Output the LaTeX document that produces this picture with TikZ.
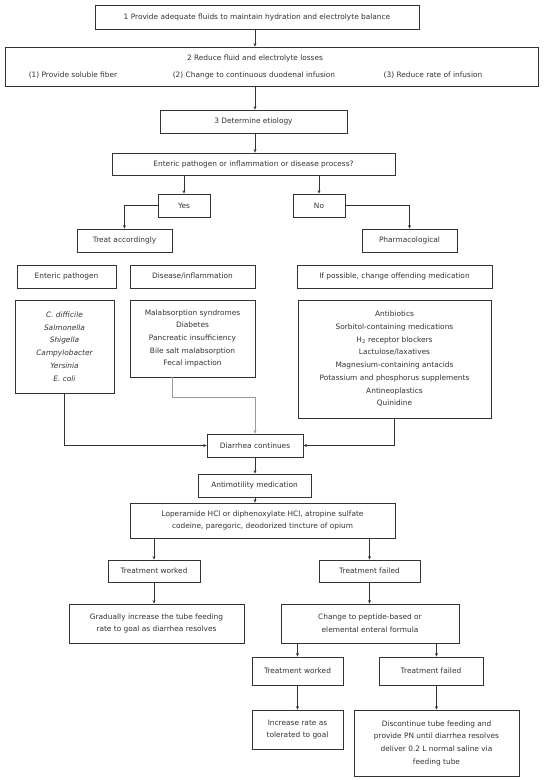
\documentclass[tikz,border=0pt]{standalone}
\usepackage{fontspec}
\setmainfont{DejaVu Sans}
\usetikzlibrary{arrows.meta}
\definecolor{ink}{HTML}{333333}
\tikzset{
  box/.style={draw=ink, line width=0.8pt, text=ink, align=center, inner sep=1pt,
    font=\fontsize{7.4}{12.7}\selectfont},
  lbl/.style={text=ink, inner sep=0pt, font=\fontsize{7.4}{12.7}\selectfont},
  arr/.style={draw=ink, line width=0.8pt, -{Stealth[length=3.5pt,width=3pt]}},
  garr/.style={draw=gray!80, line width=0.8pt, -{Stealth[length=3.5pt,width=3pt]}}
}
\begin{document}
\begin{tikzpicture}[x=1pt,y=-1pt]
\useasboundingbox[fill=white] (0,0) rectangle (551,780);
\coordinate (mx) at (255,0);
\coordinate (gx) at (172,0);
\node[box, minimum width=324pt, minimum height=24pt] (b1) at (257,17) {1 Provide adequate fluids to maintain hydration and electrolyte balance};
\node[box, minimum width=533pt, minimum height=39pt] (b2) at (271.5,66.5) {};
\node[lbl] (b2t) at (255,58) {2 Reduce fluid and electrolyte losses};
\node[lbl] (b2a) at (73,75) {(1) Provide soluble fiber};
\node[lbl] (b2b) at (254,75) {(2) Change to continuous duodenal infusion};
\node[lbl] (b2c) at (433,75) {(3) Reduce rate of infusion};
\node[box, minimum width=187pt, minimum height=23pt] (b3) at (253.5,121.5) {3 Determine etiology};
\node[box, minimum width=283pt, minimum height=22pt] (q) at (253.5,164) {Enteric pathogen or inflammation or disease process?};
\node[box, minimum width=52pt, minimum height=23pt] (yes) at (184,205.5) {Yes};
\node[box, minimum width=52pt, minimum height=23pt] (no) at (319,205.5) {No};
\node[box, minimum width=95pt, minimum height=23pt] (treat) at (124.5,240.5) {Treat accordingly};
\node[box, minimum width=95pt, minimum height=23pt] (pharm) at (409.5,240.5) {Pharmacological};
\node[box, minimum width=99pt, minimum height=23pt] (ent) at (66.5,276.5) {Enteric pathogen};
\node[box, minimum width=125pt, minimum height=23pt] (dis) at (192.5,276.5) {Disease/inflammation};
\node[box, minimum width=195pt, minimum height=23pt] (ifp) at (394.5,276.5) {If possible, change offending medication};
\node[box, minimum width=99pt, minimum height=93pt] (pat) at (64.5,346.5) {\itshape C. difficile\\\itshape Salmonella\\\itshape Shigella\\\itshape Campylobacter\\\itshape Yersinia\\\itshape E. coli};
\node[box, minimum width=125pt, minimum height=77pt] (dlist) at (192.5,338.5) {Malabsorption syndromes\\Diabetes\\Pancreatic insufficiency\\Bile salt malabsorption\\Fecal impaction};
\node[box, minimum width=193pt, minimum height=118pt] (drug) at (394.5,359) {Antibiotics\\Sorbitol-containing medications\\H\textsubscript{2} receptor blockers\\Lactulose/laxatives\\Magnesium-containing antacids\\Potassium and phosphorus supplements\\Antineoplastics\\Quinidine};
\node[box, minimum width=96pt, minimum height=23pt] (diar) at (255,445.5) {Diarrhea continues};
\node[box, minimum width=113pt, minimum height=23pt] (anti) at (254.5,485.5) {Antimotility medication};
\node[box, minimum width=265pt, minimum height=35pt] (lop) at (262.5,520.5) {Loperamide HCl or diphenoxylate HCl, atropine sulfate\\codeine, paregoric, deodorized tincture of opium};
\node[box, minimum width=92pt, minimum height=22pt] (tw) at (154,571) {Treatment worked};
\node[box, minimum width=101pt, minimum height=22pt] (tf) at (369.5,571) {Treatment failed};
\node[box, minimum width=175pt, minimum height=39pt] (grad) at (156.5,623.5) {Gradually increase the tube feeding\\rate to goal as diarrhea resolves};
\node[box, minimum width=178pt, minimum height=39pt] (chg) at (370,623.5) {Change to peptide-based or\\elemental enteral formula};
\node[box, minimum width=91pt, minimum height=28pt] (tw2) at (297.5,671) {Treatment worked};
\node[box, minimum width=104pt, minimum height=28pt] (tf2) at (431,671) {Treatment failed};
\node[box, minimum width=91pt, minimum height=39pt] (inc) at (297.5,729.5) {Increase rate as\\tolerated to goal};
\node[box, minimum width=165pt, minimum height=66pt] (disc) at (436.5,743) {Discontinue tube feeding and\\provide PN until diarrhea resolves\\deliver 0.2 L normal saline via\\feeding tube};
% connectors
\draw[arr] (b1.south -| mx) -- (b2.north -| mx);
\draw[arr] (b2.south -| mx) -- (b3.north -| mx);
\draw[arr] (b3.south -| mx) -- (q.north -| mx);
\draw[arr] (q.south -| yes) -- (yes.north);
\draw[arr] (q.south -| no) -- (no.north);
\draw[arr] (yes.west) -| (treat.north);
\draw[arr] (no.east) -| (pharm.north);
\draw[arr] (pat.south) |- (diar.west);
\draw[garr] (dlist.south -| gx) -- ++(0,20) -| (diar.north);
\draw[arr] (drug.south) |- (diar.east);
\draw[arr] (diar.south -| mx) -- (anti.north -| mx);
\draw[arr] (anti.south -| mx) -- (lop.north -| mx);
\draw[arr] (lop.south -| tw) -- (tw.north);
\draw[arr] (lop.south -| tf) -- (tf.north);
\draw[arr] (tw.south) -- (tw.south |- grad.north);
\draw[arr] (tf.south) -- (tf.south |- chg.north);
\draw[arr] (chg.south -| tw2) -- (tw2.north);
\draw[arr] (chg.south -| disc) -- (tf2.north -| disc);
\draw[arr] (tw2.south) -- (inc.north);
\draw[arr] (tf2.south -| disc) -- (disc.north);
\end{tikzpicture}
\end{document}
